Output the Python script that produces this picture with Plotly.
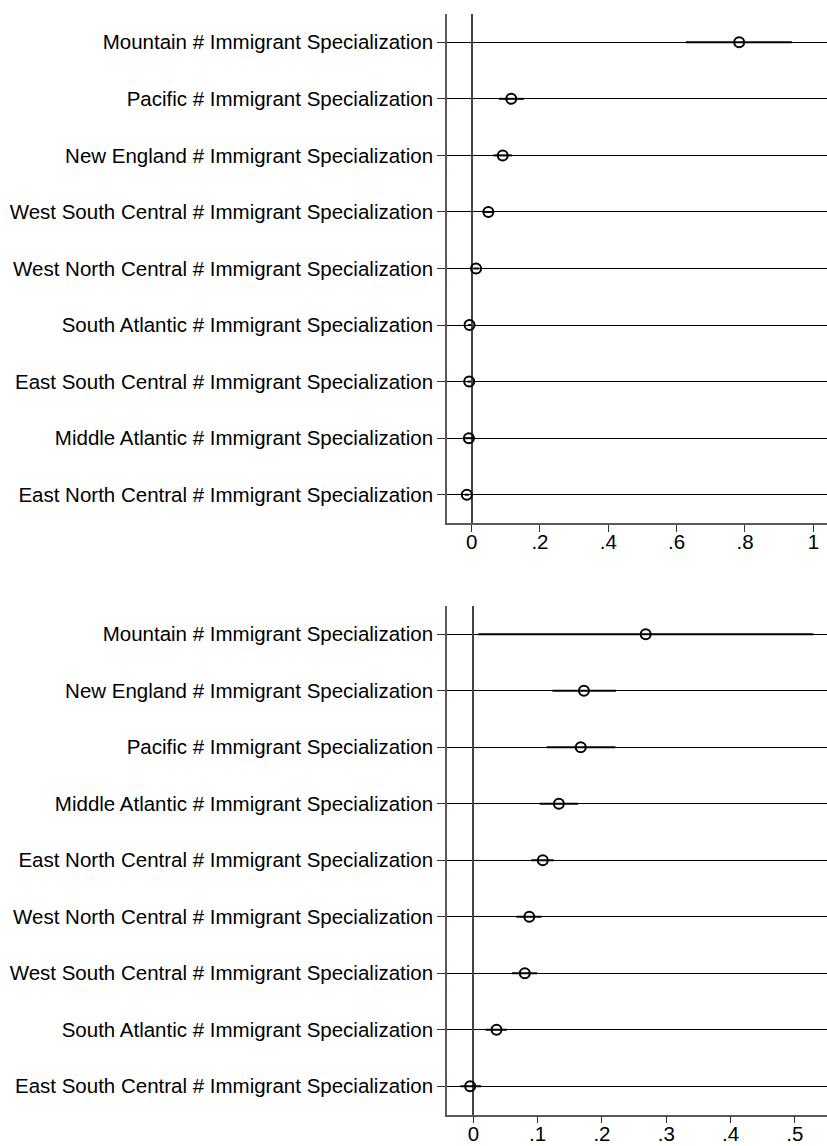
import plotly.graph_objects as go

# ---------- data ----------
top_labels = [
    "Mountain # Immigrant Specialization",
    "Pacific # Immigrant Specialization",
    "New England # Immigrant Specialization",
    "West South Central # Immigrant Specialization",
    "West North Central # Immigrant Specialization",
    "South Atlantic # Immigrant Specialization",
    "East South Central # Immigrant Specialization",
    "Middle Atlantic # Immigrant Specialization",
    "East North Central # Immigrant Specialization",
]
top_est = [0.783, 0.116, 0.091, 0.049, 0.013, -0.006, -0.007, -0.008, -0.014]
top_lo = [0.627, 0.080, 0.064, 0.037, 0.005, -0.011, -0.012, -0.024, -0.020]
top_hi = [0.937, 0.153, 0.118, 0.062, 0.021, -0.001, -0.002, 0.010, -0.008]

bot_labels = [
    "Mountain # Immigrant Specialization",
    "New England # Immigrant Specialization",
    "Pacific # Immigrant Specialization",
    "Middle Atlantic # Immigrant Specialization",
    "East North Central # Immigrant Specialization",
    "West North Central # Immigrant Specialization",
    "West South Central # Immigrant Specialization",
    "South Atlantic # Immigrant Specialization",
    "East South Central # Immigrant Specialization",
]
bot_est = [0.268, 0.172, 0.167, 0.133, 0.108, 0.087, 0.080, 0.036, -0.005]
bot_lo = [0.008, 0.123, 0.114, 0.103, 0.090, 0.067, 0.060, 0.019, -0.020]
bot_hi = [0.529, 0.222, 0.221, 0.163, 0.125, 0.106, 0.099, 0.052, 0.012]

top_ticks = [0, 0.2, 0.4, 0.6, 0.8, 1]
top_ticktext = ["0", ".2", ".4", ".6", ".8", "1"]
bot_ticks = [0, 0.1, 0.2, 0.3, 0.4, 0.5]
bot_ticktext = ["0", ".1", ".2", ".3", ".4", ".5"]

FONT = "Liberation Sans, Arial, sans-serif"
W, H = 827, 1146

fig = go.Figure()


def add_panel(labels, est, lo, hi, xa, ya):
    pos = list(range(len(labels)))
    fig.add_trace(go.Scatter(
        x=est, y=pos, mode="markers",
        xaxis=xa, yaxis=ya,
        marker=dict(symbol="circle-open", size=10, color="black",
                    line=dict(width=2, color="black")),
        error_x=dict(type="data", symmetric=False,
                     array=[h - e for h, e in zip(hi, est)],
                     arrayminus=[e - l for e, l in zip(est, lo)],
                     width=0, thickness=2, color="black"),
        showlegend=False, hoverinfo="skip",
    ))


add_panel(top_labels, top_est, top_lo, top_hi, "x", "y")
add_panel(bot_labels, bot_est, bot_lo, bot_hi, "x2", "y2")

x0 = 447 / W
top_dom = [1 - 523 / H, 1 - 14 / H]
bot_dom = [1 - 1114.5 / H, 1 - 606 / H]

common_x = dict(
    showgrid=False, zeroline=True, zerolinecolor="#444444", zerolinewidth=1.5,
    showline=True, linecolor="#5a5a5a", linewidth=1.5,
    ticks="outside", ticklen=7, tickwidth=1.2, tickcolor="#333333",
    tickfont=dict(family=FONT, size=20.5, color="black"),
    ticklabelstandoff=-7,
    automargin=False,
)
common_y = dict(
    showgrid=True, gridcolor="black", gridwidth=1,
    zeroline=False,
    showline=True, linecolor="#5a5a5a", linewidth=1.5,
    ticks="outside", ticklen=8, tickwidth=1.2, tickcolor="#333333",
    tickfont=dict(family=FONT, size=20.5, color="black"),
    automargin=False,
    range=[8.5, -0.5],
    tickvals=list(range(9)),
)

fig.update_layout(
    width=W, height=H,
    margin=dict(l=0, r=0, t=0, b=0),
    paper_bgcolor="white", plot_bgcolor="white",
    font=dict(family=FONT, color="black"),
    xaxis=dict(common_x, domain=[x0, 1], anchor="y", range=[-0.072, 1.04],
               tickvals=top_ticks, ticktext=top_ticktext),
    yaxis=dict(common_y, domain=top_dom, anchor="x", ticktext=top_labels),
    xaxis2=dict(common_x, domain=[x0, 1], anchor="y2", range=[-0.041, 0.55],
                tickvals=bot_ticks, ticktext=bot_ticktext),
    yaxis2=dict(common_y, domain=bot_dom, anchor="x2", ticktext=bot_labels),
)

fig.write_html("out.html")
